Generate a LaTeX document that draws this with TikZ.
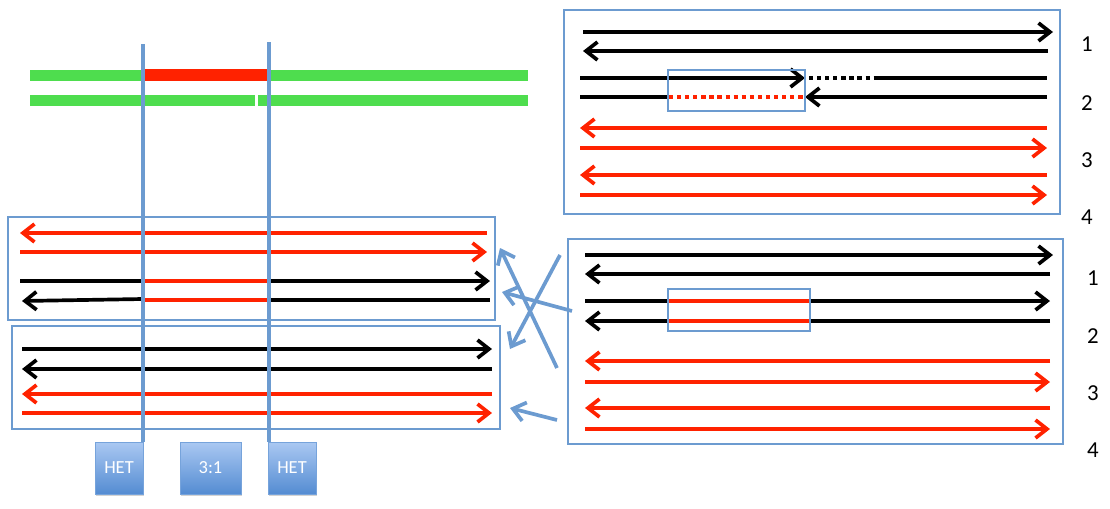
\documentclass[tikz,border=0pt]{standalone}
\usepackage{fontspec}
\setmainfont{Carlito}
\usetikzlibrary{arrows.meta,shadows}
\definecolor{myred}{RGB}{255,34,0}
\definecolor{mygreen}{RGB}{78,221,78}
\definecolor{myblue}{RGB}{108,155,208}
\definecolor{hettop}{RGB}{170,200,242}
\definecolor{hetbot}{RGB}{84,140,210}
\tikzset{
  blk/.style={line width=2.1pt, draw=black},
  rd/.style={line width=2.1pt, draw=myred},
  rdot/.style={line width=2.1pt, draw=myred, dash pattern=on 2.4pt off 2.2pt},
  bdot/.style={line width=2.1pt, draw=black, dash pattern=on 2.4pt off 2.2pt},
  head/.style={-{Straight Barb[length=2.3mm,width=3.6mm]}},
  frame/.style={draw=myblue, line width=1pt, inner sep=0pt, outer sep=0pt},
  sframe/.style={draw=myblue, line width=1.5pt, inner sep=0pt, outer sep=0pt},
  vline/.style={draw=myblue, line width=1.8pt},
  conn/.style={draw=myblue, line width=2.1pt, -{Straight Barb[length=2.4mm,width=3.8mm]}},
  hetbox/.style={inner sep=0pt, outer sep=0pt, minimum height=1.04cm, top color=hettop, bottom color=hetbot, draw=hetbot!80!white, line width=0.5pt, text=white, font=\fontsize{10.5}{12}\selectfont, drop shadow={shadow xshift=0.5pt, shadow yshift=-1.2pt, opacity=0.35}},
  num/.style={font=\fontsize{13}{15}\selectfont}
}
\begin{document}
\begin{tikzpicture}[x=0.02cm, y=-0.02cm]
\useasboundingbox (0,0) rectangle (1110,508);
% green bars
\fill[mygreen] (30,70) rectangle (528,81);
\fill[myred] (143,69) rectangle (268,81);
\fill[mygreen] (30,95) rectangle (255,106);
\fill[mygreen] (258,95) rectangle (528,106);

% frames
\node[frame, minimum width=9.92cm, minimum height=4.08cm] (TR) at (812,112) {};
\node[frame, minimum width=9.90cm, minimum height=4.10cm] (BR) at (815.5,341.5) {};
\node[frame, minimum width=9.74cm, minimum height=2.06cm] (L1) at (251.5,268.5) {};
\node[frame, minimum width=9.76cm, minimum height=2.06cm] (L2) at (256,377.5) {};

% top-right strands
\draw[blk,head] (583,32) -- (1053,32);
\draw[blk,head] (1048,51) -- (583,51);
\draw[blk,head] (580,78) -- (805,78);
\draw[bdot] (809,78) -- (878,78);
\draw[blk] (878,78) -- (1047,78);
\draw[blk] (580,97) -- (668,97);
\draw[rdot] (669,97) -- (803,97);
\draw[blk,head] (1047,97) -- (805,97);
\draw[rd,head] (1047,128) -- (580,128);
\draw[rd,head] (580,148) -- (1047,148);
\draw[rd,head] (1047,175) -- (580,175);
\draw[rd,head] (580,195) -- (1047,195);
\node[sframe, minimum width=2.74cm, minimum height=0.82cm] (TRs) at (736.5,90.5) {};

\node[num] (n1a) at (1087,44) {1};
\node[num] (n2a) at (1087,103) {2};
\node[num] (n3a) at (1087,160) {3};
\node[num] (n4a) at (1087,217) {4};

% bottom-right strands
\draw[blk,head] (585,255) -- (1053,255);
\draw[blk,head] (1050,274) -- (585,274);
\draw[blk,head] (585,301) -- (1050,301);
\draw[rd] (668,301) -- (810,301);
\draw[blk,head] (1050,321) -- (585,321);
\draw[rd] (668,321) -- (810,321);
\draw[rd,head] (1050,361) -- (585,361);
\draw[rd,head] (585,382) -- (1050,382);
\draw[rd,head] (1050,408) -- (585,408);
\draw[rd,head] (585,429) -- (1050,429);
\node[sframe, minimum width=2.84cm, minimum height=0.84cm] (BRs) at (739,310) {};

\node[num] (n1b) at (1093,278) {1};
\node[num] (n2b) at (1093,336) {2};
\node[num] (n3b) at (1093,393) {3};
\node[num] (n4b) at (1093,450) {4};

% left box 1
\draw[rd,head] (487,233) -- (20,233);
\draw[rd,head] (20,252) -- (487,252);
\draw[blk,head] (20,281) -- (490,281);
\draw[rd] (143,281) -- (268,281);
\draw[blk,head] (143,299) -- (22,301);
\draw[blk] (268,300) -- (490,300);
\draw[rd] (143,300) -- (268,300);

% left box 2
\draw[blk,head] (22,349) -- (492,349);
\draw[blk,head] (492,369) -- (22,369);
\draw[rd,head] (492,394) -- (22,394);
\draw[rd,head] (22,413) -- (492,413);

% connectors
\coordinate (tA) at (572,311);
\coordinate (hA) at (502,292);
\coordinate (tB) at (557,368);
\coordinate (hB) at (500,248);
\coordinate (tC) at (560,255);
\coordinate (hC) at (510,349);
\coordinate (tD) at (557,420);
\coordinate (hD) at (510,408);
\draw[conn] (tA) -- (hA);
\draw[conn] (tB) -- (hB);
\draw[conn] (tC) -- (hC);
\draw[conn] (tD) -- (hD);

% HET boxes
\node[hetbox, minimum width=0.96cm] (h1) at (119,468) {HET};
\node[hetbox, minimum width=1.22cm] (h2) at (210.5,468) {3:1};
\node[hetbox, minimum width=0.96cm] (h3) at (292,468) {HET};

% vertical lines
\coordinate (v1) at (143,44);
\coordinate (v2) at (269,42);
\draw[vline] (v1) -- (v1 |- h1.north);
\draw[vline] (v2) -- (v2 |- h3.north);
\end{tikzpicture}
\end{document}
